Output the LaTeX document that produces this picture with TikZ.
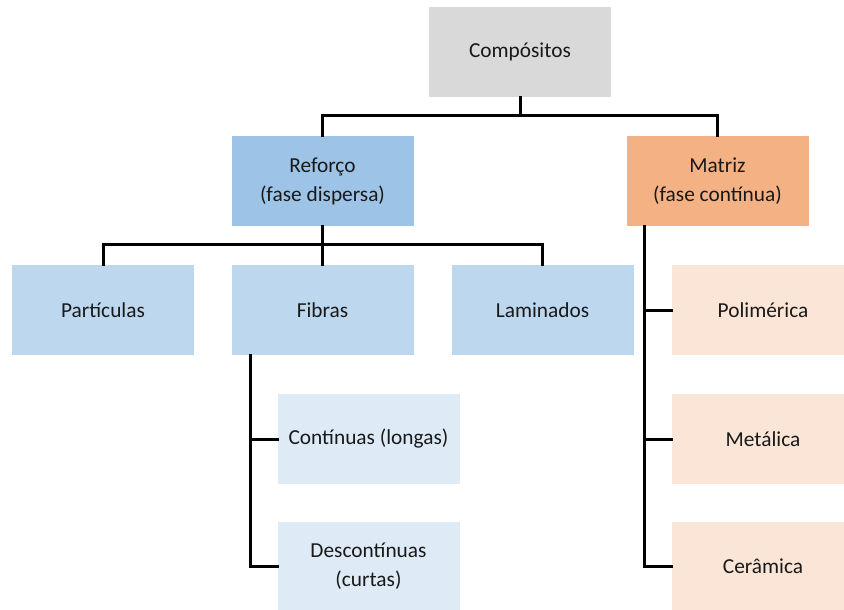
\documentclass[tikz,border=0pt]{standalone}
\usepackage{fontspec}
\setmainfont{Carlito}
\definecolor{cgray}{HTML}{D9D9D9}
\definecolor{cblue}{HTML}{9DC3E6}
\definecolor{cbluel}{HTML}{BDD7EE}
\definecolor{cbluell}{HTML}{DEEBF7}
\definecolor{corange}{HTML}{F4B183}
\definecolor{corangel}{HTML}{FBE5D6}
\begin{document}
\begin{tikzpicture}[x=0.75pt,y=-0.75pt,
  box/.style={draw=none,minimum width=136.5pt,minimum height=67.5pt,inner sep=0pt,align=center,font=\fontsize{16pt}{21.75pt}\selectfont,text=black!90},
  conn/.style={line width=2.25pt,line join=miter,line cap=rect}]
\useasboundingbox (0,0) rectangle (844,610);
\node[box,fill=cgray] (comp) at (520,52) {Compósitos};
\node[box,fill=cblue] (ref) at (322.5,181) {Reforço\\(fase dispersa)};
\node[box,fill=corange] (mat) at (717.5,181) {Matriz\\(fase contínua)};
\node[box,fill=cbluel] (part) at (103,310) {Partículas};
\node[box,fill=cbluel] (fib) at (322.5,310) {Fibras};
\node[box,fill=cbluel] (lam) at (542.5,310) {Laminados};
\node[box,fill=cbluell] (cont) at (368.5,439) {Contínuas (longas)};
\node[box,fill=cbluell] (desc) at (368.5,566.5) {Descontínuas\\(curtas)};
\node[box,fill=corangel] (pol) at (763,310) {Polimérica};
\node[box,fill=corangel] (met) at (763,439) {Metálica};
\node[box,fill=corangel] (cer) at (763,566.5) {Cerâmica};
\coordinate (j1) at (520,116);
\coordinate (j2) at (322.5,245);
\coordinate (fx) at (250,355);
\coordinate (mx) at (644,227);
\draw[conn] (comp.south) -- (j1);
\draw[conn] (j1) -| (ref.north);
\draw[conn] (j1) -| (mat.north);
\draw[conn] (ref.south) -- (fib.north);
\draw[conn] (j2) -| (part.north);
\draw[conn] (j2) -| (lam.north);
\draw[conn] (fx) |- (desc.west);
\draw[conn] (cont.west) -- (cont.west -| fx);
\draw[conn] (mx) |- (cer.west);
\draw[conn] (met.west) -- (met.west -| mx);
\draw[conn] (pol.west) -- (pol.west -| mx);
\end{tikzpicture}
\end{document}
